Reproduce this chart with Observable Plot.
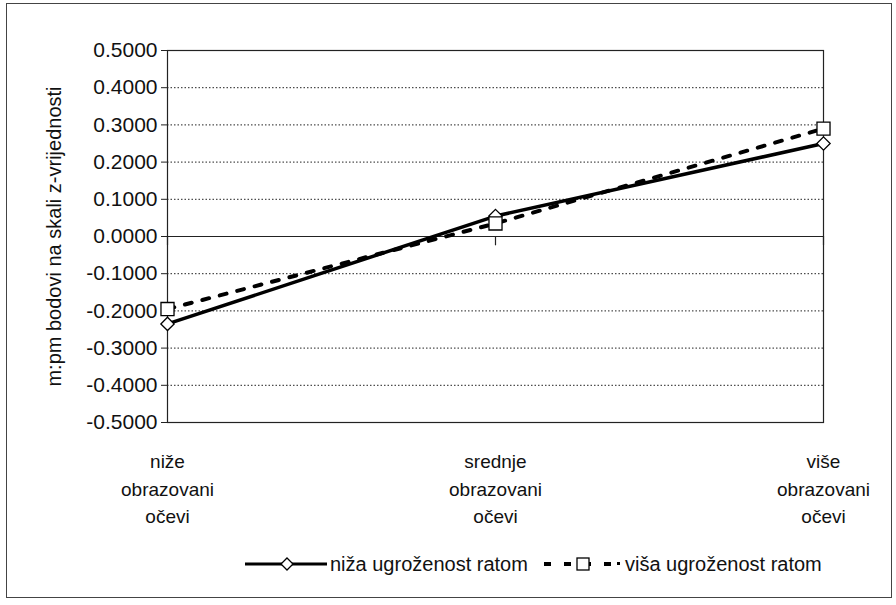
<!DOCTYPE html>
<html><head><meta charset="utf-8">
<script src="https://cdn.jsdelivr.net/npm/d3@7"></script>
<script src="https://cdn.jsdelivr.net/npm/@observablehq/plot@0.6"></script>
<style>
body{margin:0;background:#fff;font-family:"Liberation Sans",Arial,sans-serif;color:#111;}
#wrap{position:relative;width:896px;height:605px;overflow:hidden;}
#frame{position:absolute;left:6px;top:3px;width:884px;height:593px;border:1.5px solid #444;pointer-events:none;}
#chart{position:absolute;left:0;top:0;}
.leg{position:absolute;top:550px;height:28px;line-height:28px;font-size:20px;white-space:nowrap;}
.sw{position:absolute;top:550px;}
</style></head><body>
<div id="wrap"><div id="chart"></div><div id="legend"></div><div id="frame"></div></div>
<script>
const categories = ["niže\nobrazovani\nočevi", "srednje\nobrazovani\nočevi", "više\nobrazovani\nočevi"];
const nizaValues = [-0.235, 0.055, 0.25];
const visaValues = [-0.195, 0.035, 0.29];
const seriesNames = ["niža ugroženost ratom", "viša ugroženost ratom"];
const yTicks = [-0.5, -0.4, -0.3, -0.2, -0.1, 0, 0.1, 0.2, 0.3, 0.4, 0.5];
const gridTicks = [-0.4, -0.3, -0.2, -0.1, 0.1, 0.2, 0.3, 0.4];
const yLabel = "m:pm bodovi na skali z-vrijednosti";

const niza = categories.map((c, i) => ({cat: c, value: nizaValues[i]}));
const visa = categories.map((c, i) => ({cat: c, value: visaValues[i]}));

const chart = Plot.plot({
  width: 896, height: 545,
  marginLeft: 167, marginRight: 73, marginTop: 50, marginBottom: 123,
  style: {fontFamily: "'Liberation Sans', Arial, sans-serif", fontSize: "20px", background: "transparent", color: "#111"},
  x: {type: "point", domain: categories, padding: 0},
  y: {domain: [-0.5, 0.5]},
  marks: [
    Plot.ruleY(gridTicks, {stroke: "#222", strokeDasharray: "1.5,2", strokeWidth: 1}),
    Plot.ruleY([0], {stroke: "#222", strokeWidth: 1.2}),
    Plot.ruleX(categories, {x: d => d, y1: 0, y2: -0.025, stroke: "#222", strokeWidth: 1.2}),
    Plot.frame({stroke: "#222", strokeWidth: 1.2}),
    Plot.axisY(yTicks, {tickFormat: d => d.toFixed(4), tickSize: 6, tickPadding: 4, fontSize: 21, label: null, stroke: "#222"}),
    Plot.axisX({tickSize: 0, tickPadding: 26, fontSize: 19, lineHeight: 1.45, label: null}),
    Plot.text([yLabel], {frameAnchor: "left", textAnchor: "middle", lineAnchor: "middle", rotate: -90, dx: -113, fontSize: 20, text: d => d, fill: "#111"}),
    Plot.line(visa, {x: "cat", y: "value", stroke: "#000", strokeWidth: 4, strokeDasharray: "7,11"}),
    Plot.line(niza, {x: "cat", y: "value", stroke: "#000", strokeWidth: 3.5}),
    Plot.dot(niza, {x: "cat", y: "value", symbol: "diamond2", r: 6, stroke: "#000", fill: "#fff", strokeWidth: 1.3}),
    Plot.dot(visa, {x: "cat", y: "value", symbol: "square2", r: 8.3, stroke: "#000", fill: "#fff", strokeWidth: 1.3})
  ]
});
document.getElementById("chart").appendChild(chart);

const legend = document.getElementById("legend");
legend.innerHTML =
  `<svg class="sw" style="left:243px" width="86" height="28">
     <line x1="2" x2="84" y1="14" y2="14" stroke="#000" stroke-width="3"/>
     <path d="M44,8 L50,14 L44,20 L38,14 Z" fill="#fff" stroke="#000" stroke-width="1.3"/>
   </svg>
   <div class="leg" style="left:330px">${seriesNames[0]}</div>
   <svg class="sw" style="left:540px" width="84" height="28">
     <line x1="4" x2="72" y1="14" y2="14" stroke="#000" stroke-width="4" stroke-dasharray="7,13"/>
     <rect x="77" y="12" width="3" height="3" fill="#000"/>
     <rect x="37" y="8" width="12" height="12" fill="#fff" stroke="#000" stroke-width="1.3"/>
   </svg>
   <div class="leg" style="left:625px">${seriesNames[1]}</div>`;
</script>
</body></html>
